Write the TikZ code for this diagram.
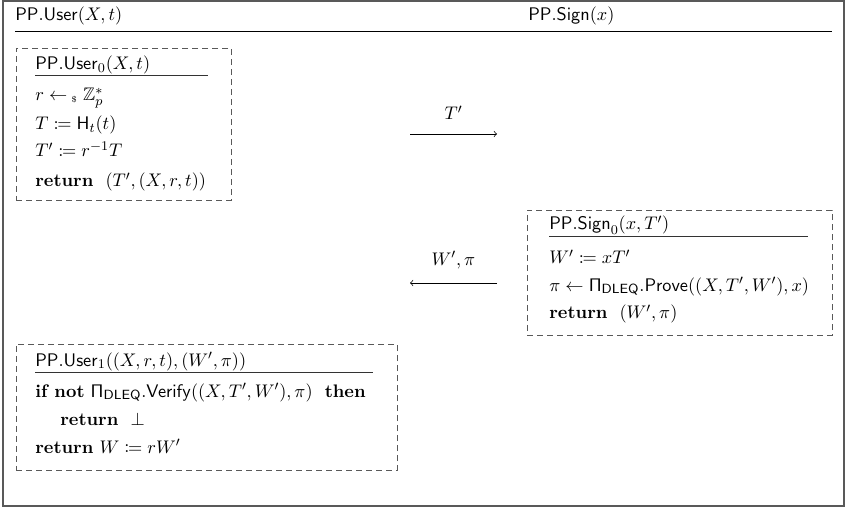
\documentclass[tikz,border=0pt]{standalone}
\usepackage{amsmath,amssymb,mathtools}
\usetikzlibrary{fit}
\newcommand{\sampl}{\mathrel{\leftarrow\mkern-1mu\raisebox{-0.25ex}{\tiny\$}\mkern1mu}}
\newcommand{\sPi}{\mathsf{\Pi}}
\begin{document}
\begin{tikzpicture}[x=0.6pt,y=-0.6pt,
  font=\fontsize{10.9pt}{13pt}\selectfont,
  txt/.style={anchor=base west,inner sep=0pt},
  frame/.style={draw=black!65,line width=0.8pt},
  hline/.style={draw=black,line width=0.5pt},
  uline/.style={draw=black!80,line width=0.6pt},
  dbox/.style={draw=black!65,line width=0.5pt,dash pattern=on 3.5pt off 2.5pt,inner sep=0pt},
  arr/.style={->,line width=0.45pt}]
\useasboundingbox (0,0) rectangle (846,509);
\draw[frame] (3,1) rectangle (844,506);
% header
\node[txt] (huser) at (15,21) {$\mathsf{PP.User}(X,t)$};
\node[txt] (hsign) at (528,21) {$\mathsf{PP.Sign}(x)$};
\coordinate (hl) at (15,31);
\coordinate (hr) at (832,31);
\draw[hline] (hl) -- (hr);
% box 1
\node[dbox,fit={(16,48) (231,200)}] (b1) {};
\node[txt] (u0t) at (35,70) {$\mathsf{PP.User}_0(X,t)$};
\draw[uline] (35,76) -- (208,76);
\node[txt] (u0a) at (35,101) {$r \sampl \mathbb{Z}_p^*$};
\node[txt] (u0b) at (35,130) {$T \coloneqq \mathsf{H}_t(t)$};
\node[txt] (u0c) at (35,157) {$T' \coloneqq r^{-1}T$};
\node[txt] (u0d) at (35,187) {$\textbf{return}\ \ (T',(X,r,t))$};
% arrows
\coordinate (a1s) at (410,134);
\coordinate (a1e) at (497,134);
\draw[arr] (a1s) -- node[above=5pt] (l1) {$T'$} (a1e);
\coordinate (a2s) at (497,283);
\coordinate (a2e) at (410,283);
\draw[arr] (a2s) -- node[above=5pt] (l2) {$W',\pi$} (a2e);
% box 2
\node[dbox,fit={(527,210) (832,335)}] (b2) {};
\node[txt] (s0t) at (549,230) {$\mathsf{PP.Sign}_0(x,T')$};
\draw[uline] (549,237) -- (808,237);
\node[txt] (s0a) at (549,264) {$W' \coloneqq xT'$};
\node[txt] (s0b) at (549,291) {$\pi \leftarrow \sPi_{\mathsf{DLEQ}}.\mathsf{Prove}((X,T',W'),x)$};
\node[txt] (s0c) at (549,319) {$\textbf{return}\ \ (W',\pi)$};
% box 3
\node[dbox,fit={(16,344) (397,470)}] (b3) {};
\node[txt] (u1t) at (35,366) {$\mathsf{PP.User}_1((X,r,t),(W',\pi))$};
\draw[uline] (35,372) -- (373,372);
\node[txt] (u1a) at (35,397) {$\textbf{if not}\ \sPi_{\mathsf{DLEQ}}.\mathsf{Verify}((X,T',W'),\pi)\ \ \textbf{then}$};
\node[txt] (u1b) at (60,425) {$\textbf{return}\ \ \bot$};
\node[txt] (u1c) at (35,453) {$\textbf{return}\ W \coloneqq rW'$};
\end{tikzpicture}
\end{document}
